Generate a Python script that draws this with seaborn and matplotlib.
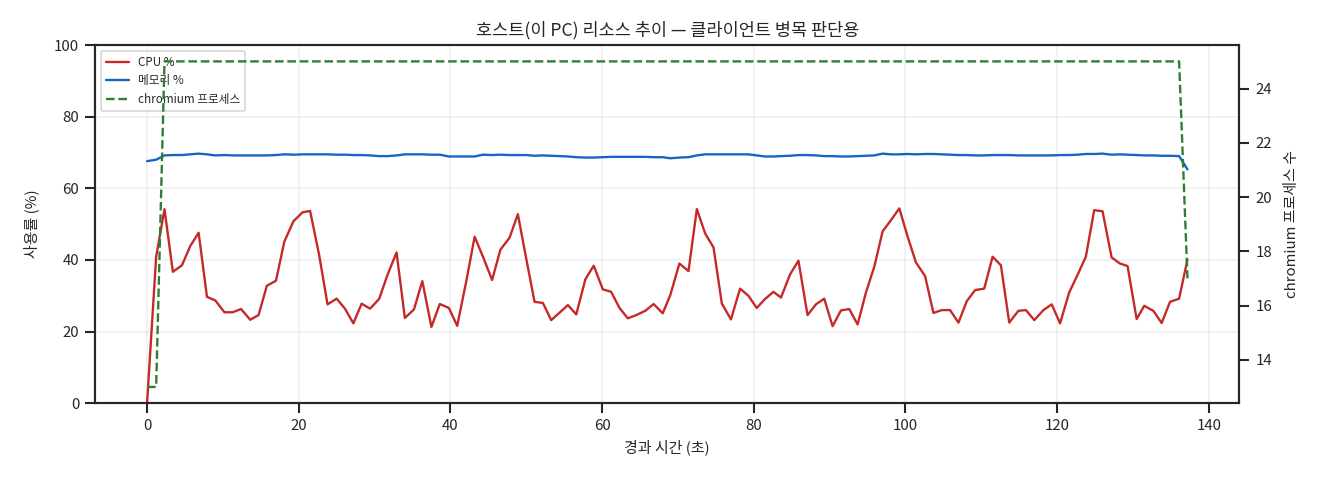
import numpy as np
import matplotlib
matplotlib.use("Agg")
import matplotlib.pyplot as plt
import seaborn as sns
import pandas as pd

# elapsed seconds per sample
elapsed = [
    0.0, 1.2, 2.3, 3.4, 4.6, 5.7, 6.8, 7.9, 9.0, 10.2,
    11.3, 12.4, 13.6, 14.7, 15.8, 17.0, 18.1, 19.3, 20.5, 21.5,
    22.7, 23.8, 25.0, 26.1, 27.2, 28.3, 29.4, 30.6, 31.7, 32.9,
    34.0, 35.2, 36.3, 37.5, 38.6, 39.8, 40.9, 42.1, 43.2, 44.3,
    45.5, 46.6, 47.8, 48.9, 50.0, 51.1, 52.2, 53.3, 54.4, 55.5,
    56.6, 57.8, 58.9, 60.1, 61.2, 62.3, 63.4, 64.5, 65.7, 66.8,
    68.0, 69.0, 70.2, 71.4, 72.5, 73.6, 74.7, 75.8, 77.0, 78.2,
    79.3, 80.4, 81.5, 82.6, 83.6, 84.8, 85.9, 87.1, 88.2, 89.3,
    90.4, 91.5, 92.6, 93.7, 94.8, 95.9, 97.0, 98.1, 99.2, 100.3,
    101.4, 102.6, 103.7, 104.8, 105.9, 107.0, 108.1, 109.2, 110.4, 111.5,
    112.6, 113.7, 114.9, 115.9, 117.0, 118.2, 119.3, 120.4, 121.6, 122.7,
    123.8, 124.9, 126.0, 127.2, 128.3, 129.3, 130.5, 131.5, 132.7, 133.8,
    134.9, 136.1, 137.2,
]

cpu_pct = [
    0.0, 40.9, 54.2, 36.7, 38.5, 43.9, 47.6, 29.7, 28.7, 25.4,
    25.4, 26.3, 23.3, 24.6, 32.8, 34.2, 45.1, 50.8, 53.3, 53.7,
    41.3, 27.6, 29.2, 26.4, 22.3, 27.8, 26.4, 29.1, 35.8, 42.1,
    23.8, 26.2, 34.1, 21.3, 27.7, 26.6, 21.6, 34.1, 46.5, 40.9,
    34.4, 42.9, 46.2, 52.8, 40.4, 28.3, 28.0, 23.2, 25.3, 27.4,
    24.8, 34.6, 38.4, 31.8, 31.1, 26.6, 23.7, 24.6, 25.8, 27.7,
    25.1, 30.2, 39.0, 36.9, 54.2, 47.4, 43.5, 27.8, 23.4, 32.0,
    30.0, 26.6, 29.1, 31.1, 29.5, 36.0, 39.8, 24.6, 27.6, 29.2,
    21.5, 25.9, 26.3, 22.0, 30.9, 38.1, 48.0, 51.1, 54.4, 46.5,
    39.3, 35.5, 25.2, 26.0, 26.0, 22.5, 28.5, 31.6, 32.0, 40.9,
    38.5, 22.5, 25.8, 26.0, 23.2, 26.0, 27.6, 22.3, 30.9, 35.8,
    40.9, 53.9, 53.6, 40.7, 39.0, 38.3, 23.5, 27.2, 25.8, 22.4,
    28.3, 29.2, 40.1,
]

mem_pct = [
    67.6, 68.0, 69.2, 69.3, 69.3, 69.5, 69.7, 69.5, 69.2, 69.3,
    69.2, 69.2, 69.2, 69.2, 69.2, 69.3, 69.5, 69.4, 69.5, 69.5,
    69.5, 69.5, 69.4, 69.4, 69.3, 69.3, 69.2, 69.0, 69.0, 69.2,
    69.5, 69.5, 69.5, 69.4, 69.4, 68.9, 68.9, 68.9, 68.9, 69.4,
    69.3, 69.4, 69.3, 69.3, 69.3, 69.1, 69.2, 69.1, 69.0, 68.9,
    68.7, 68.6, 68.6, 68.7, 68.8, 68.8, 68.8, 68.8, 68.8, 68.7,
    68.7, 68.4, 68.6, 68.7, 69.2, 69.5, 69.5, 69.5, 69.5, 69.5,
    69.5, 69.2, 68.9, 68.9, 69.0, 69.1, 69.3, 69.3, 69.2, 69.0,
    69.0, 68.9, 68.9, 69.0, 69.1, 69.2, 69.7, 69.5, 69.5, 69.6,
    69.5, 69.6, 69.6, 69.5, 69.4, 69.3, 69.3, 69.2, 69.2, 69.3,
    69.3, 69.3, 69.2, 69.2, 69.2, 69.2, 69.2, 69.3, 69.3, 69.4,
    69.6, 69.6, 69.7, 69.4, 69.5, 69.4, 69.3, 69.2, 69.2, 69.1,
    69.1, 69.0, 65.3,
]

chromium_procs = [13, 13] + [25] * 119 + [25, 17]

df = pd.DataFrame({"t": elapsed, "cpu": cpu_pct, "mem": mem_pct, "procs": chromium_procs})

sns.set_theme(style="ticks")
plt.rcParams["font.family"] = ["Noto Sans CJK KR", "DejaVu Sans"]
plt.rcParams["axes.unicode_minus"] = False

fig, ax = plt.subplots(figsize=(11, 4), dpi=120)
fig.subplots_adjust(left=0.072, right=0.939, top=0.906, bottom=0.16)

sns.lineplot(data=df, x="t", y="cpu", ax=ax, color="#c62828", lw=1.4, label="CPU %", legend=False)
sns.lineplot(data=df, x="t", y="mem", ax=ax, color="#1565c0", lw=1.4, label="메모리 %", legend=False)
ax.set_ylim(0, 100)
ax.grid(True, alpha=0.3)
ax.set_xlabel("경과 시간 (초)", fontsize=9)
ax.set_ylabel("사용률 (%)", fontsize=9, labelpad=9)
ax.tick_params(labelsize=9)

ax2 = ax.twinx()
sns.lineplot(data=df, x="t", y="procs", ax=ax2, color="#2e7d32", lw=1.4, linestyle="--",
             label="chromium 프로세스", legend=False)
ax2.set_ylabel("chromium 프로세스 수", fontsize=9, labelpad=8)
ax2.tick_params(labelsize=9)

h1, l1 = ax.get_legend_handles_labels()
h2, l2 = ax2.get_legend_handles_labels()
ax.legend(h1 + h2, l1 + l2, loc="upper left", fontsize=7)

ax.set_title("호스트(이 PC) 리소스 추이 — 클라이언트 병목 판단용", fontsize=10.5)

fig.savefig("out.png")
